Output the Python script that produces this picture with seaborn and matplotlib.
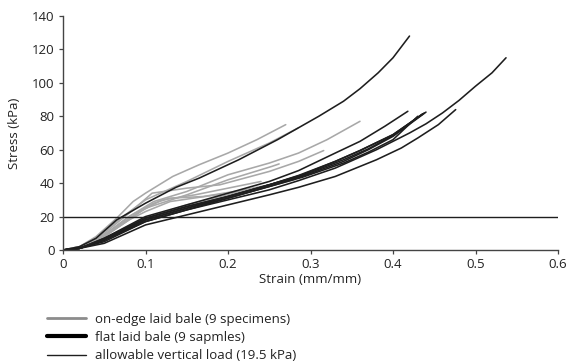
import matplotlib
matplotlib.use("Agg")
import matplotlib.pyplot as plt
from matplotlib.lines import Line2D
import seaborn as sns
import pandas as pd

# ---- data ----
ONEDGE_STRAIN = [
    [0, 0.02, 0.04, 0.065, 0.085, 0.1, 0.133, 0.165, 0.2, 0.235, 0.27],
    [0, 0.02, 0.04, 0.07, 0.1, 0.15, 0.2, 0.25, 0.285],
    [0, 0.02, 0.05, 0.08, 0.11, 0.15, 0.2, 0.25, 0.2855, 0.32, 0.36],
    [0, 0.02, 0.05, 0.08, 0.108, 0.15, 0.19, 0.25, 0.2855, 0.316],
    [0, 0.02, 0.05, 0.08, 0.1, 0.15, 0.2, 0.253, 0.262],
    [0, 0.02, 0.05, 0.08, 0.1, 0.13, 0.2, 0.25, 0.28],
    [0, 0.02, 0.05, 0.08, 0.11, 0.13, 0.17, 0.22, 0.25],
    [0, 0.02, 0.05, 0.1, 0.15, 0.2, 0.25, 0.29],
    [0, 0.02, 0.05, 0.09, 0.12, 0.16, 0.2, 0.24],
]
ONEDGE_STRESS = [
    [0, 2, 8, 19, 29, 34, 44, 51, 58, 66, 75],
    [0, 2, 7, 19, 30, 41, 53, 64, 73],
    [0, 1, 9, 20, 29, 35, 45, 52, 58, 66, 77],
    [0, 1, 10, 22, 34, 37, 39, 47, 53, 59.5],
    [0, 1, 8, 18, 25, 33, 42, 50, 51.5],
    [0, 1, 8, 18, 23, 29, 34, 38, 42],
    [0, 1, 9, 20, 28, 31, 32, 36, 39],
    [0, 1, 6, 19, 27, 33, 39, 44],
    [0, 1, 9, 22, 30, 33, 37, 41],
]
FLAT_STRAIN = [
    [0, 0.02, 0.04, 0.065, 0.1, 0.137, 0.165, 0.213, 0.26, 0.285, 0.31, 0.34, 0.36, 0.382, 0.4, 0.42],
    [0, 0.02, 0.05, 0.1, 0.15, 0.2, 0.25, 0.2855, 0.33, 0.36, 0.39, 0.418],
    [0, 0.02, 0.05, 0.1, 0.15, 0.2, 0.25, 0.2855, 0.33, 0.36, 0.4, 0.438],
    [0, 0.02, 0.05, 0.1, 0.15, 0.2, 0.25, 0.2855, 0.33, 0.38, 0.42, 0.44, 0.46, 0.48, 0.5, 0.52, 0.537],
    [0, 0.02, 0.05, 0.1, 0.15, 0.2, 0.25, 0.2855, 0.33, 0.38, 0.41, 0.43, 0.455, 0.476],
    [0, 0.02, 0.05, 0.1, 0.15, 0.2, 0.25, 0.29, 0.34, 0.37, 0.4, 0.44],
    [0, 0.02, 0.05, 0.1, 0.15, 0.2, 0.25, 0.29, 0.33, 0.36, 0.4, 0.435],
    [0, 0.02, 0.05, 0.1, 0.15, 0.2, 0.25, 0.29, 0.34, 0.37, 0.4, 0.43],
    [0, 0.02, 0.05, 0.1, 0.15, 0.2, 0.25, 0.29, 0.34, 0.37, 0.4, 0.436],
]
FLAT_STRESS = [
    [0, 2, 7, 18, 28, 37.5, 43, 54, 66, 73, 80, 89, 96.5, 106, 115, 128],
    [0, 1, 7, 20, 27, 34, 41, 47.5, 58, 65, 74, 83],
    [0, 1, 6, 19, 26, 32, 39, 44.6, 53, 59.5, 69, 82],
    [0, 1, 5, 17, 24, 30, 36, 41.5, 49, 60, 70, 75.5, 82, 89.5, 98, 106, 115],
    [0, 1, 4, 15, 21, 27, 33, 37.5, 44, 54, 61, 67, 75, 84],
    [0, 1, 6, 18, 25, 31, 38, 44, 53, 60, 68, 82.5],
    [0, 1, 6, 18, 25, 32, 39, 45, 53, 59.5, 69, 81],
    [0, 1, 6, 17, 24, 31, 38, 43.5, 52, 58.5, 66, 80],
    [0, 1, 7, 19, 26, 32, 39, 44.5, 54, 60.5, 68.5, 81.5],
]
ALLOWABLE_LOAD = 19.5
X_TICKS = [0, 0.1, 0.2, 0.3, 0.4, 0.5, 0.6]
Y_TICKS = [0, 20, 40, 60, 80, 100, 120, 140]
LEGEND_LABELS = ["on-edge laid bale (9 specimens)",
                 "flat laid bale (9 sapmles)",
                 "allowable vertical load (19.5 kPa)"]

rows = []
for i, (xs, ys) in enumerate(zip(ONEDGE_STRAIN, ONEDGE_STRESS)):
    for x, y in zip(xs, ys):
        rows.append(dict(strain=x, stress=y, specimen=f"E{i}", kind="on-edge"))
for i, (xs, ys) in enumerate(zip(FLAT_STRAIN, FLAT_STRESS)):
    for x, y in zip(xs, ys):
        rows.append(dict(strain=x, stress=y, specimen=f"F{i}", kind="flat"))
df = pd.DataFrame(rows)

sns.set_style("white")
plt.rcParams["font.family"] = ["Open Sans", "DejaVu Sans"]

GRAY = "#a8a8a8"
BLACK = "#1e1e1e"
FS = 9.5

fig = plt.figure(figsize=(5.66, 3.63), dpi=100)
ax = fig.add_axes([63 / 566, 1 - 250 / 363, 495 / 566, 234 / 363])

sns.lineplot(data=df[df.kind == "on-edge"], x="strain", y="stress", units="specimen",
             estimator=None, sort=False, color=GRAY, lw=1.15, ax=ax, legend=False)
sns.lineplot(data=df[df.kind == "flat"], x="strain", y="stress", units="specimen",
             estimator=None, sort=False, color=BLACK, lw=1.15, ax=ax, legend=False)
ax.plot([0, 0.6], [ALLOWABLE_LOAD, ALLOWABLE_LOAD], color=BLACK, lw=1.0)

ax.set_xlim(0, 0.6)
ax.set_ylim(0, 140)
ax.set_xticks(X_TICKS)
ax.set_xticklabels(["0" if t == 0 else f"{t:g}" for t in X_TICKS])
ax.set_yticks(Y_TICKS)
for s in ["top", "right"]:
    ax.spines[s].set_visible(False)
for s in ["left", "bottom"]:
    ax.spines[s].set_color("#444444")
    ax.spines[s].set_linewidth(1.0)
ax.tick_params(axis="both", direction="out", length=3, width=0.9, color="#444444",
               labelsize=FS, labelcolor="#222222", pad=3, left=True, bottom=True)
ax.set_xlabel("Strain (mm/mm)", fontsize=FS, color="#222222", labelpad=1)
ax.set_ylabel("Stress (kPa)", fontsize=FS, color="#222222", labelpad=8)

handles = [Line2D([], [], color="#8c8c8c", lw=2.0),
           Line2D([], [], color="#000000", lw=3.0),
           Line2D([], [], color=BLACK, lw=1.0)]
fig.legend(handles, LEGEND_LABELS, loc="upper left", bbox_to_anchor=(40 / 566, 1 - 306 / 363),
           frameon=False, fontsize=FS, handlelength=3.0, handletextpad=0.7,
           labelspacing=0.4, borderpad=0, labelcolor="#222222")

fig.savefig("out.png", dpi=100)
